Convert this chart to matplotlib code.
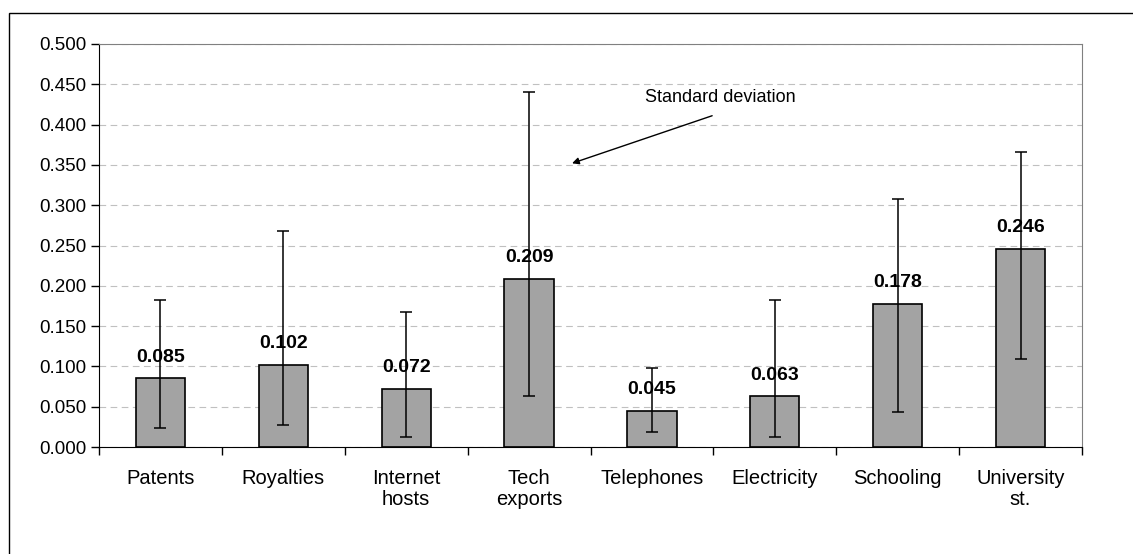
import numpy as np
import matplotlib.pyplot as plt
from matplotlib.patches import Rectangle

plt.rcParams['font.family'] = ['Liberation Sans', 'DejaVu Sans']

categories = ['Patents', 'Royalties', 'Internet\nhosts', 'Tech\nexports',
              'Telephones', 'Electricity', 'Schooling', 'University\nst.']
means = [0.085, 0.102, 0.072, 0.209, 0.045, 0.063, 0.178, 0.246]
err_low = [0.023, 0.027, 0.013, 0.063, 0.019, 0.013, 0.043, 0.109]
err_high = [0.183, 0.268, 0.167, 0.440, 0.098, 0.183, 0.308, 0.366]
yticks = np.arange(0, 0.501, 0.05)

fig = plt.figure(figsize=(11.33, 5.54), dpi=100)
ax = fig.add_axes([99 / 1133, 1 - 447 / 554, (1082 - 99) / 1133, (447 - 44) / 554])

# outer chart frame
fig.patches.append(Rectangle((9 / 1133, -0.01), 1.2, 1 - 13 / 554 + 0.01,
                             transform=fig.transFigure, fill=False,
                             edgecolor='black', lw=1.0))

x = np.arange(len(categories))
m = np.array(means)
yerr = [m - np.array(err_low), np.array(err_high) - m]
ax.bar(x, m, width=0.4, color='#a3a3a3', edgecolor='black', lw=1.2, zorder=2)
ax.errorbar(x, m, yerr=yerr, fmt='none', ecolor='black', elinewidth=1.1,
            capsize=4, capthick=1.1, zorder=3)

for xi, v in zip(x, means):
    ax.annotate(f'{v:.3f}', (xi, v), xytext=(0, 9), textcoords='offset points',
                ha='center', va='bottom', fontsize=14, fontweight='bold')

ax.set_xlim(-0.5, len(categories) - 0.5)
ax.set_ylim(0, 0.5)
ax.set_yticks(yticks)
ax.set_yticklabels([f'{t:.3f}' for t in yticks], fontsize=13.5)
ax.set_xticks(x)
ax.set_xticklabels(categories, fontsize=14.5, linespacing=1.15)
ax.set_xticks(np.arange(-0.5, len(categories), 1), minor=True)
ax.tick_params(axis='x', which='major', length=0, pad=16)
ax.tick_params(axis='x', which='minor', length=6, direction='out', width=1)
ax.tick_params(axis='y', length=6, direction='out', width=1, pad=3)
ax.yaxis.grid(True, ls=(0, (6, 4)), color='#c0c0c0', lw=0.8, zorder=0)
ax.set_axisbelow(True)

for s in ['left', 'bottom']:
    ax.spines[s].set_color('black')
for s in ['top', 'right']:
    ax.spines[s].set_color('#808080')

ax.annotate('', xy=(3.35, 0.352), xytext=(4.49, 0.411),
            arrowprops=dict(arrowstyle='-|>', color='black', lw=1.0,
                            mutation_scale=10, shrinkA=0, shrinkB=0))
ax.text(4.56, 0.434, 'Standard deviation', ha='center', va='center', fontsize=13)

fig.savefig('out.png', dpi=100)
